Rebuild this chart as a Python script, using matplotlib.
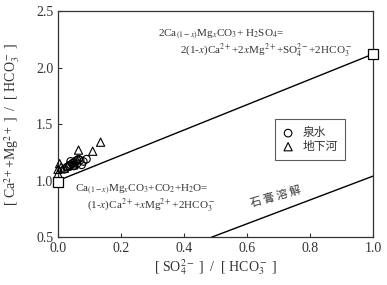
import matplotlib
matplotlib.use("Agg")
import matplotlib.pyplot as plt

plt.rcParams['font.family'] = ['Liberation Serif', 'Noto Sans CJK SC', 'DejaVu Sans']
plt.rcParams['mathtext.fontset'] = 'stix'

# Data
spring_x = [0.02, 0.03, 0.035, 0.04, 0.045, 0.05, 0.055, 0.06, 0.065, 0.07, 0.08, 0.09, 0.05, 0.06, 0.04, 0.075]
spring_y = [1.10, 1.12, 1.13, 1.14, 1.15, 1.16, 1.17, 1.18, 1.19, 1.18, 1.17, 1.19, 1.13, 1.15, 1.17, 1.14]
river_x = [0.0, 0.0, 0.005, 0.01, 0.02, 0.03, 0.05, 0.065, 0.11, 0.135]
river_y = [1.06, 1.10, 1.15, 1.12, 1.11, 1.13, 1.14, 1.27, 1.26, 1.34]
end_x = [0.0, 1.0]
end_y = [0.99, 2.12]
line1_x = [0.0, 1.0]
line1_y = [1.0, 2.12]
gyp_x = [0.488, 1.0]
gyp_y = [0.5, 1.04]
xticks = [0.0, 0.2, 0.4, 0.6, 0.8, 1.0]
yticks = [0.5, 1.0, 1.5, 2.0, 2.5]

TXT = '#333333'
fig = plt.figure(figsize=(3.87, 2.85), dpi=100)
ax = fig.add_axes([0.150, 0.168, 0.814, 0.793])

ax.plot(line1_x, line1_y, color='black', lw=1.0)
ax.plot(gyp_x, gyp_y, color='black', lw=1.0)
ax.plot(end_x, end_y, linestyle='none', marker='s', markersize=7,
        markerfacecolor='white', markeredgecolor='black', mew=0.9, clip_on=False, zorder=5)
ax.scatter(spring_x, spring_y, s=30, marker='o', facecolors='none', edgecolors='black',
           linewidths=0.8, clip_on=False, zorder=4, label='泉水')
ax.scatter(river_x, river_y, s=35, marker='^', facecolors='none', edgecolors='black',
           linewidths=0.8, clip_on=False, zorder=4, label='地下河')

ax.set_xlim(0, 1.0)
ax.set_ylim(0.5, 2.5)
ax.set_xticks(xticks)
ax.set_yticks(yticks)
ax.set_xticklabels([f"{v:.1f}" for v in xticks])
ax.set_yticklabels([f"{v:.1f}" for v in yticks])
ax.tick_params(direction='in', length=3, width=0.8, labelsize=10, colors=TXT)
for s in ax.spines.values():
    s.set_linewidth(0.9)
    s.set_color(TXT)

ax.set_xlabel(r"[ SO$_4^{2-}$ ]  /  [ HCO$_3^-$ ]", fontsize=10, color=TXT, labelpad=2)
ax.set_ylabel(r"[ Ca$^{2+}$+Mg$^{2+}$ ]  /  [ HCO$_3^-$ ]", fontsize=10, color=TXT, labelpad=10)

ax.text(0.318, 2.29, r"2Ca$_{(1-x)}$Mg$_x$CO$_3$+ H$_2$SO$_4$=", fontsize=8, color=TXT,
        ha='left', va='center')
ax.text(0.387, 2.145, r"2(1-$x$)Ca$^{2+}$+2$x$Mg$^{2+}$+SO$_4^{2-}$+2HCO$_3^-$", fontsize=8,
        color=TXT, ha='left', va='center')
ax.text(0.055, 0.92, r"Ca$_{(1-x)}$Mg$_x$CO$_3$+CO$_2$+H$_2$O=", fontsize=8, color=TXT,
        ha='left', va='center')
ax.text(0.092, 0.78, r"(1-$x$)Ca$^{2+}$+$x$Mg$^{2+}$+2HCO$_3^-$", fontsize=8, color=TXT,
        ha='left', va='center')
ax.text(0.69, 0.855, "石 膏 溶 解", fontsize=8, color=TXT, ha='center', va='center',
        rotation=16, family=['Noto Sans CJK SC', 'DejaVu Sans'])

leg = ax.legend(loc='upper left', bbox_to_anchor=(0.689, 0.522), frameon=True, fancybox=False,
                edgecolor=TXT, handlelength=1.0, handletextpad=0.7,
                borderpad=0.6, borderaxespad=0, labelspacing=0.05,
                prop={'family': ['Noto Sans CJK SC', 'DejaVu Sans'], 'size': 8.5})
leg.get_frame().set_linewidth(0.8)
for t in leg.get_texts():
    t.set_color(TXT)

fig.savefig("out.png", dpi=100)
